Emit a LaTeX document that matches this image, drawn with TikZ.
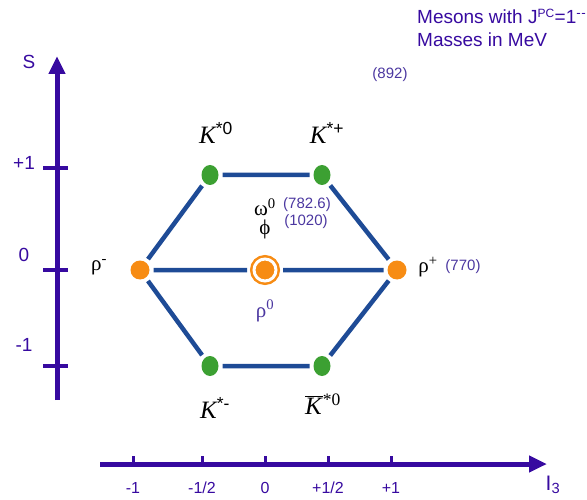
\documentclass[tikz,border=0pt]{standalone}
\usepackage{fontspec}
\setmainfont{Liberation Sans}
\newfontfamily\kfont{Liberation Serif}
\usetikzlibrary{arrows.meta, positioning, shapes.geometric}
\definecolor{axisblue}{RGB}{55,10,160}
\definecolor{edgeblue}{RGB}{30,75,150}
\definecolor{kgreen}{RGB}{60,160,50}
\definecolor{rhoorange}{RGB}{247,140,20}
\definecolor{massblue}{RGB}{75,55,160}

\begin{document}
\begin{tikzpicture}[x=1pt, y=-1pt,
  kaon/.style={ellipse, fill=kgreen, minimum width=17pt, minimum height=20pt, inner sep=0pt, outer sep=4pt},
  rho/.style={circle, fill=rhoorange, minimum size=19pt, inner sep=0pt, outer sep=4pt},
  link/.style={edgeblue, line width=4.5pt},
  axis/.style={axisblue, line width=5pt, -{Triangle[length=18pt, width=16pt]}},
  tick/.style={axisblue, line width=3.5pt},
  axlabel/.style={text=axisblue, font=\fontsize{19}{22}\selectfont},
  mass/.style={text=massblue, font=\fontsize{15}{17}\selectfont},
  klabel/.style={font=\fontsize{25}{28}\selectfont},
  greek/.style={font=\kfont\fontsize{21}{23}\selectfont}]
\useasboundingbox (0,0) rectangle (587,500);

% axes
\coordinate (sbot) at (57,400);
\coordinate (stop) at (57,56);
\draw[axis] (sbot) -- (stop);
\node[axlabel] (slabel) at (29,62) {S};
\foreach \y/\t/\ly in {168/+1/163, 270/0/255, 366/-1/345}{
  \draw[tick] (43,\y) -- (68,\y);
  \node[axlabel] at (24,\ly) {\t};
}
\coordinate (ileft) at (100,464);
\coordinate (iright) at (547,464);
\draw[axis] (ileft) -- (iright);
\foreach \x/\t in {133/-1, 202/-1\slash 2, 265/0, 328/+1\slash 2, 391/+1}{
  \draw[tick, line width=3pt] (\x,456) -- (\x,464);
  \node[axlabel, font=\fontsize{16}{18}\selectfont] at (\x,488) {\t};
}
\node[axlabel, font=\fontsize{21}{24}\selectfont] (ilabel) at (553,485) {I\textsubscript{3}};

% title
\node[axlabel, font=\fontsize{19}{23}\selectfont, align=left, anchor=north west, inner sep=0pt] (title) at (417,9)
  {Mesons with J\textsuperscript{\fontsize{12}{12}\selectfont PC}=1\textsuperscript{-\kern0.5pt-}\\Masses in MeV};

% mesons
\node[kaon] (ks0) at (210,175) {};
\node[kaon] (ksp) at (322,175) {};
\node[rho] (rhom) at (140,270) {};
\node[circle, fill=rhoorange, draw=rhoorange, line width=2.5pt, double=white, double distance=3pt,
  minimum size=22pt, inner sep=0pt, outer sep=7pt] (rho0) at (265,270) {};
\node[rho] (rhop) at (397,270) {};
\node[kaon] (ksm) at (210,366) {};
\node[kaon] (ksb) at (322,366) {};

\draw[link] (ks0) -- (ksp) (ksp) -- (rhop) (rhop) -- (ksb) (ksb) -- (ksm)
  (ksm) -- (rhom) (rhom) -- (ks0) (rhom) -- (rho0) (rho0) -- (rhop);

% labels
\node[klabel] (lks0) at (216,133) {{\kfont\itshape K}\textsuperscript{*0}};
\node[klabel] (lksp) at (327,133) {{\kfont\itshape K}\textsuperscript{*+}};
\node[klabel] (lksm) at (215,408) {{\kfont\itshape K}\textsuperscript{*-}};
\node[klabel] (lksb) at (323,404) {$\overline{\mbox{\kfont\itshape K\kern1pt}}$\textsuperscript{\kfont *0}};
\node[greek] (lomega) at (265,207) {ω\textsuperscript{0}};
\node[greek] (lphi) at (265,229) {ϕ};
\node[mass] (momega) at (307,205) {(782.6)};
\node[mass] (mphi) at (306,222) {(1020)};
\node[greek, text=massblue] (lrho0) at (265,311) {ρ\textsuperscript{0}};
\node[greek] (lrhom) at (99,267) {ρ\textsuperscript{-}};
\node[greek] (lrhop) at (428,267) {ρ\textsuperscript{+}};
\node[mass] (mrho) at (463,267) {(770)};
\node[mass] (mks) at (390,75) {(892)};
\end{tikzpicture}
\end{document}
